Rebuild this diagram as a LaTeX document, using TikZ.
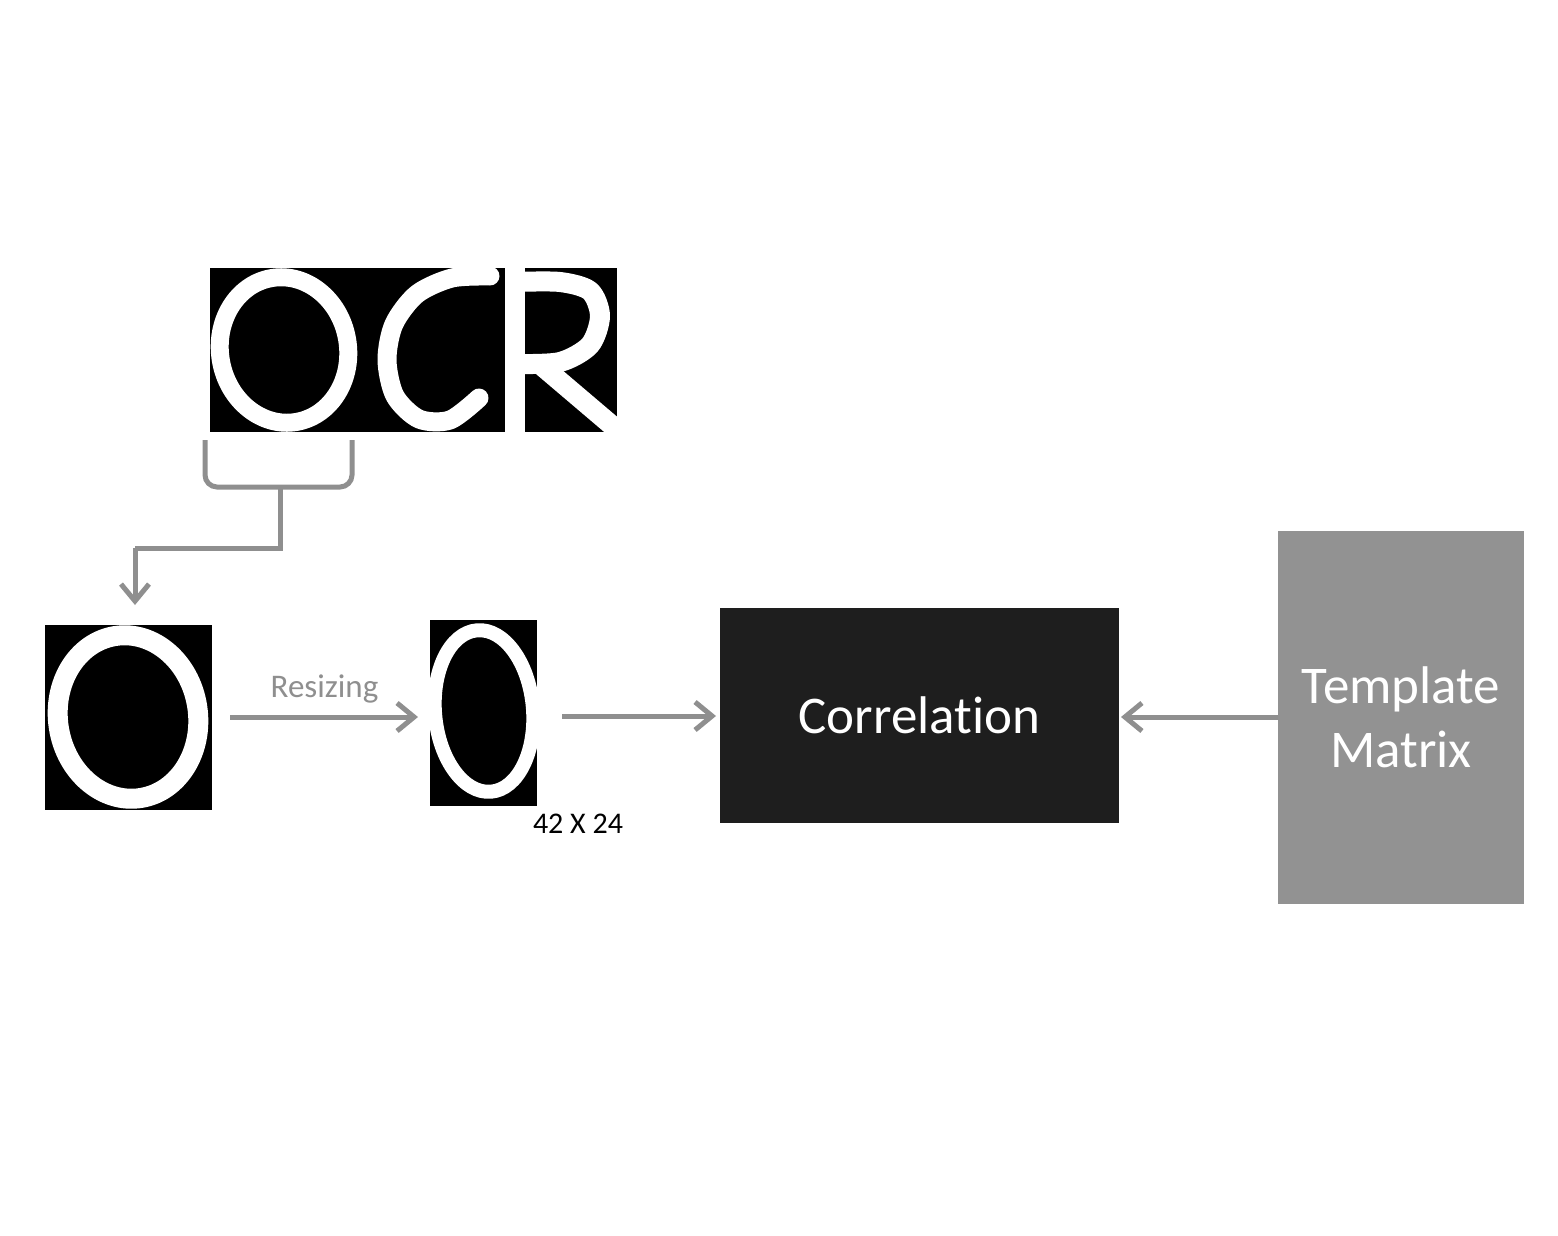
\documentclass[tikz,border=0pt]{standalone}
\usepackage{fontspec}
\setmainfont{Carlito}[Ligatures={NoCommon}]
\usetikzlibrary{arrows.meta}
\definecolor{arrgray}{HTML}{8F8F8F}
\definecolor{tmgray}{HTML}{929292}
\definecolor{corrblack}{HTML}{1E1E1E}
\begin{document}
\begin{tikzpicture}[x=0.5pt,y=-0.5pt,
  imgbox/.style={fill=black, draw=none, inner sep=0pt, outer sep=0pt},
  wstroke/.style={draw=white, line width=#1, line join=round},
  conn/.style={draw=arrgray, line width=2.5pt, -{Straight Barb[length=8.5pt,width=14pt]}},
  brk/.style={draw=arrgray, line width=2.5pt},
  boxtext/.style={text=white, font=\fontsize{26.5}{32}\selectfont, align=center, inner sep=0pt, outer sep=0pt}]
\useasboundingbox[fill=white] (0,0) rectangle (1558,1236);

% ---- OCR image ----
\node[imgbox, minimum width=203.5pt, minimum height=82pt] (ocr) at (413.5,350) {};
\begin{scope}
  \clip (ocr.south west) rectangle (ocr.north east);
  \begin{scope}[shift={(284,350)}, rotate=10]
    \draw[wstroke=9pt] (0,0) ellipse [x radius=64, y radius=73];
  \end{scope}
  \draw[wstroke=9.5pt, line cap=round] plot[smooth] coordinates
    {(490,276) (452,278) (417,294) (394,324) (387,360) (395,396) (419,419) (450,420) (479,398)};
  \draw[wstroke=10pt] (515,262) -- (515,440);
  \draw[wstroke=10pt] plot[smooth] coordinates
    {(515,282) (560,282) (590,291) (600,316) (590,345) (560,362) (515,364)};
  \draw[wstroke=10pt] (542,366) -- (622,434);
\end{scope}

% ---- bracket ----
\coordinate (bl) at (205,440);
\coordinate (br) at (352,440);
\coordinate (bm) at (280,487);
\coordinate (bk) at (135,548);
\draw[brk, rounded corners=6pt] (bl) -- (205,487) -- (352,487) -- (br);

% ---- first O ----
\node[imgbox, minimum width=83.5pt, minimum height=92.5pt] (o1) at (128.5,717.5) {};
\begin{scope}
  \clip (o1.south west) rectangle (o1.north east);
  \begin{scope}[shift={(128,717)}, rotate=9]
    \draw[wstroke=10pt] (0,0) ellipse [x radius=70, y radius=82];
  \end{scope}
\end{scope}

% ---- resized O ----
\node[imgbox, minimum width=53.5pt, minimum height=93pt] (o2) at (483.5,713) {};
\begin{scope}
  \clip (o2.south west) rectangle (o2.north east);
  \begin{scope}[shift={(484,711)}, rotate=5]
    \draw[wstroke=7pt] (0,0) ellipse [x radius=49, y radius=81];
  \end{scope}
\end{scope}

% ---- boxes ----
\node[fill=corrblack, minimum width=199.5pt, minimum height=107.5pt, boxtext] (corr) at (919.5,715.5) {Correlation};
\node[fill=tmgray, minimum width=123pt, minimum height=186.5pt, boxtext] (tm) at (1401,717.5) {Template\\Matrix};

% ---- labels ----
\node[anchor=base, text=arrgray, font=\fontsize{16.5}{19}\selectfont, inner sep=0pt] (rs) at (324.5,697) {Resizing};
\node[anchor=base, text=black, font=\fontsize{15}{18}\selectfont, inner sep=0pt] (dim) at (578,833) {42 X 24};

% ---- connectors ----
\draw[brk] (bm) -- (280,548) -- (bk);
\draw[conn, shorten >=10pt] (bk) -- (bk |- o1.north);
\draw[conn, shorten <=9pt, shorten >=6pt] (o1.east |- 0,717) -- (o2.west |- 0,717);
\draw[conn, shorten <=12.5pt, shorten >=2pt] (o2.east |- 0,716) -- (corr.west |- 0,716);
\draw[conn, shorten >=1pt] (tm.west |- 0,717) -- (corr.east |- 0,717);
\end{tikzpicture}
\end{document}
